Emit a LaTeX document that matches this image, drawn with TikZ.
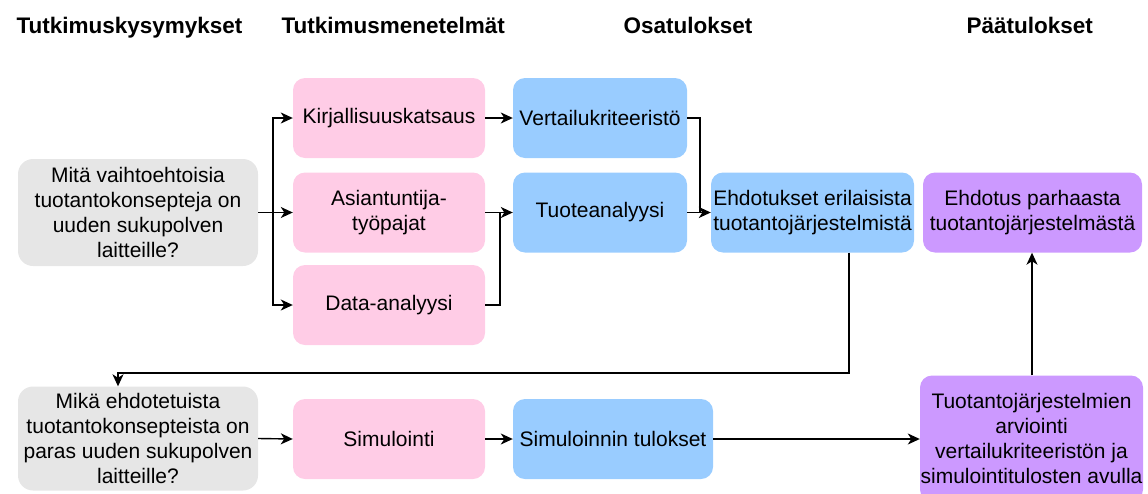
\documentclass[tikz,border=0pt]{standalone}
\usepackage{fontspec}
\setmainfont{Liberation Sans}
\usetikzlibrary{arrows.meta,calc}

\definecolor{qgray}{HTML}{E6E6E6}
\definecolor{mpink}{HTML}{FFCCE6}
\definecolor{rblue}{HTML}{99CCFF}
\definecolor{fpurple}{HTML}{CC99FF}

\begin{document}
\begin{tikzpicture}[x=1pt,y=-1pt,
  box/.style={rounded corners=12pt, align=center, inner sep=0pt,
    font=\fontsize{21}{25}\selectfont, text=black},
  question/.style={box, fill=qgray, rounded corners=15pt, minimum width=240pt},
  method/.style={box, fill=mpink, minimum width=192pt, minimum height=80pt},
  partial/.style={box, fill=rblue, minimum height=80pt},
  final/.style={box, fill=fpurple},
  header/.style={anchor=base west, font=\bfseries\fontsize{22.5}{27}\selectfont},
  arr/.style={line width=1.4pt, -{Stealth[length=12pt,width=11pt,inset=3.5pt]}},
  ln/.style={line width=1.4pt}
]
\useasboundingbox (0,0) rectangle (1148,493);

% column headers
\node[header] (h1) at (13,33) {Tutkimuskysymykset};
\node[header] (h2) at (278,33) {Tutkimusmenetelmät};
\node[header] (h3) at (620,33) {Osatulokset};
\node[header] (h4) at (963,33) {Päätulokset};

% first research question and its methods
\node[question, minimum height=107pt] (q1) at (138,212.5)
  {Mitä vaihtoehtoisia\\tuotantokonsepteja on\\uuden sukupolven\\laitteille?};
\node[method] (kir) at (389,118) {Kirjallisuuskatsaus};
\node[method] (asi) at (389,212.5) {Asiantuntija-\\työpajat};
\node[method] (dat) at (389,305) {Data-analyysi};

% partial results
\node[partial, minimum width=174pt] (ver) at (600,118) {Vertailukriteeristö};
\node[partial, minimum width=174pt] (tuo) at (600,212.5) {Tuoteanalyysi};
\node[partial, minimum width=203pt] (ehd) at (812.5,212.5)
  {Ehdotukset erilaisista\\tuotantojärjestelmistä};

% final results
\node[final, minimum width=219pt, minimum height=80pt] (par) at (1032.5,212.5)
  {Ehdotus parhaasta\\tuotantojärjestelmästä};

% second research question
\node[question, minimum height=104pt] (q2) at (138,438.5)
  {Mikä ehdotetuista\\tuotantokonsepteista on\\paras uuden sukupolven\\laitteille?};
\node[method] (sim) at (389,439) {Simulointi};
\node[partial, minimum width=200pt] (sir) at (613,439) {Simuloinnin tulokset};
\node[final, minimum width=223pt, minimum height=126pt] (arv) at (1031.5,438.5)
  {Tuotantojärjestelmien\\arviointi\\vertailukriteeristön ja\\simulointitulosten avulla};

% routing points
\coordinate (split) at (273,212.5);
\coordinate (join) at (500,212.5);
\coordinate (merge) at (700,212.5);
\coordinate (loopA) at (849,373);
\coordinate (loopB) at (118,373);
\coordinate (upx) at (1032,0);

% connectors
\draw[ln] (q1.east) -- (split);
\draw[arr] (split) |- (kir.west);
\draw[arr] (split) -- (asi.west);
\draw[arr] (split) |- (dat.west);

\draw[arr] (kir.east) -- (ver.west);
\draw[ln] (asi.east) -- (join);
\draw[ln] (dat.east) -| (join);
\draw[arr] (join) -- (tuo.west);

\draw[ln] (ver.east) -| (merge);
\draw[arr] (tuo.east) -- (ehd.west);

\draw[arr] (ehd.south -| loopA) -- (loopA) -- (loopB) -- (loopB |- q2.north);

\draw[arr] (q2.east) -- (sim.west);
\draw[arr] (sim.east) -- (sir.west);
\draw[arr] (sir.east) -- (sir.east -| arv.west);
\draw[arr] (arv.north -| upx) -- (par.south -| upx);
\end{tikzpicture}
\end{document}
